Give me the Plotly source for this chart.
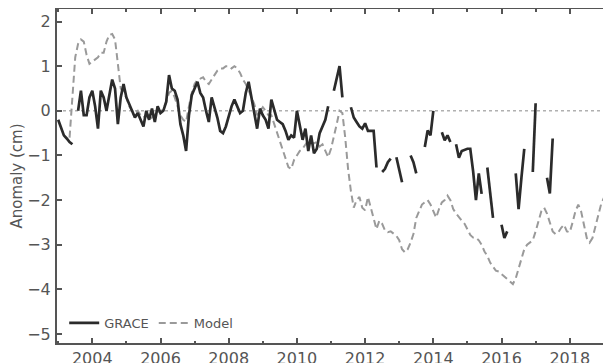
import plotly.graph_objects as go

# ---- data (monthly values, month index counted from Jan 2003) ----
grace_start_month = 0
grace_values = [
    -0.2, -0.4, -0.55, -0.62, -0.7, -0.75, None, 0.0, 0.45, -0.1,
    -0.1, 0.3, 0.45, 0.1, -0.4, 0.45, 0.3, 0.0, 0.4, 0.7,
    0.5, -0.3, 0.3, 0.6, 0.3, 0.15, 0.0, -0.15, -0.05, -0.2,
    -0.35, 0.0, -0.2, 0.05, -0.25, 0.1, -0.05, 0.0, 0.2, 0.8,
    0.5, 0.45, 0.25, -0.3, -0.55, -0.9, -0.1, 0.35, 0.5, 0.65,
    0.4, 0.3, 0.0, -0.25, 0.3, 0.1, -0.15, -0.45, -0.5, -0.35,
    -0.1, 0.1, 0.25, 0.1, -0.05, 0.0, 0.4, 0.65, 0.3, -0.1,
    -0.4, 0.05, -0.1, -0.2, -0.4, 0.25, 0.0, -0.2, -0.25, -0.3,
    -0.45, -0.65, -0.55, -0.6, 0.0, -0.35, -0.65, -0.4, -0.9, -0.55,
    -0.95, -0.85, -0.5, -0.35, -0.2, 0.1, None, 0.45, 0.75, 1.0,
    0.3, None, None, 0.08, -0.15, -0.25, -0.35, -0.4, -0.28, -0.45,
    -0.45, -0.45, -1.27, None, -1.37, -1.3, -1.15, -1.07, None, -1.04,
    -1.3, -1.6, None, None, -1.0, -1.15, -1.4, None, None, -0.81,
    -0.44, -0.55, 0.0, None, None, -0.48, -0.66, -0.55, -0.7, None,
    -0.75, -1.05, -0.9, -0.88, -0.85, -0.85, -1.35, -2.0, -1.4, -1.86,
    None, -1.27, -1.8, -2.4, None, None, -2.55, -2.85, -2.7, None,
    None, -1.4, -2.2, -1.5, -0.85, None, None, -1.37, 0.17, None,
    None, None, -1.5, -1.85, -0.62,
]

model_start_month = 4
model_values = [
    -0.6, 0.2, 1.2, 1.5, 1.6, 1.55, 1.25, 1.05, 1.1, 1.15,
    1.2, 1.3, 1.3, 1.55, 1.7, 1.72, 1.6, 1.05, 0.5, 0.4,
    0.3, 0.1, 0.0, -0.05, 0.0, -0.1, -0.15, -0.1, -0.2, -0.15,
    -0.1, 0.0, -0.05, 0.05, 0.2, 0.4, 0.45, 0.3, 0.1, -0.1,
    -0.2, -0.25, 0.1, 0.4, 0.6, 0.7, 0.72, 0.75, 0.65, 0.6,
    0.7, 0.8, 0.9, 0.95, 0.95, 1.0, 1.0, 0.95, 1.0, 0.95,
    0.85, 0.7, 0.6, 0.46, 0.3, 0.15, -0.1, 0.0, 0.08, 0.0,
    -0.1, -0.1, -0.3, -0.5, -0.7, -0.88, -1.05, -1.26, -1.3, -1.1,
    -1.0, -0.9, -0.85, -0.75, -0.66, -0.7, -0.73, -0.7, -0.8, -0.75,
    -0.9, -1.04, -0.85, -0.6, -0.3, 0.0, -0.05, -0.6, -1.3, -1.8,
    -2.17, -2.0, -1.93, -2.17, -2.23, -1.93, -2.17, -2.45, -2.65, -2.46,
    -2.53, -2.68, -2.72, -2.7, -2.76, -2.8, -2.9, -3.1, -3.17, -3.1,
    -2.95, -2.76, -2.4, -2.23, -2.1, -2.05, -2.0, -2.1, -2.25, -2.39,
    -2.2, -2.05, -2.0, -1.9, -2.0, -2.2, -2.3, -2.39, -2.46, -2.53,
    -2.65, -2.78, -2.84, -2.84, -2.9, -3.0, -3.15, -3.25, -3.4, -3.5,
    -3.58, -3.6, -3.66, -3.72, -3.78, -3.84, -3.88, -3.75, -3.55, -3.3,
    -3.1, -3.0, -2.95, -2.9, -2.7, -2.45, -2.25, -2.17, -2.3, -2.5,
    -2.7, -2.76, -2.72, -2.62, -2.55, -2.7, -2.72, -2.5, -2.25, -2.1,
    -2.25, -2.55, -2.85, -2.95, -2.85, -2.6, -2.35, -2.1, -1.95,
]

base_year = 2003
x_tick_values = [2004, 2006, 2008, 2010, 2012, 2014, 2016, 2018]
x_tick_labels = ["2004", "2006", "2008", "2010", "2012", "2014", "2016", "2018"]
y_tick_values = [2, 1, 0, -1, -2, -3, -4, -5]
series_names = ["GRACE", "Model"]
y_title = "Anomaly (cm)"

grace_x = [base_year + (grace_start_month + i) / 12 for i in range(len(grace_values))]
model_x = [base_year + (model_start_month + i) / 12 for i in range(len(model_values))]

AX = "#555555"
FONT = "DejaVu Sans, sans-serif"

fig = go.Figure()
fig.add_hline(y=0, line=dict(color="#b0b0b0", width=1.5, dash="dot"), layer="below")
fig.add_trace(go.Scatter(
    x=model_x, y=model_values, mode="lines", name=series_names[1],
    line=dict(color="#9a9a9a", width=2, dash="7px,4px"),
    connectgaps=False,
))
fig.add_trace(go.Scatter(
    x=grace_x, y=grace_values, mode="lines", name=series_names[0],
    line=dict(color="#2b2b2b", width=2.7),
    connectgaps=False,
))

# the page body adds an 8px margin; the figure is sized to fill the rest
fig.update_layout(
    width=603, height=355,
    margin=dict(l=49, r=0, t=1, b=20, autoexpand=False),
    plot_bgcolor="white", paper_bgcolor="white",
    font=dict(family=FONT, color=AX, size=14),
    showlegend=True,
    legend=dict(
        orientation="h", x=0.013, y=0.06, xanchor="left", yanchor="middle",
        bgcolor="rgba(0,0,0,0)", font=dict(size=13, color=AX),
        traceorder="reversed", itemwidth=30,
    ),
    xaxis=dict(
        range=[2002.965, 2019.21], automargin=False,
        tickvals=x_tick_values, ticktext=x_tick_labels,
        ticks="inside", ticklen=5, tickwidth=1.5, tickcolor=AX,
        showline=True, linecolor=AX, linewidth=2, mirror="ticks",
        showgrid=False, zeroline=False,
        tickfont=dict(size=16, color=AX),
        minor=dict(dtick=1, tick0=2003, ticks="inside", ticklen=2.5,
                   tickwidth=1.5, tickcolor=AX, showgrid=False),
    ),
    yaxis=dict(
        range=[-5.2, 2.28], automargin=False,
        tickvals=y_tick_values,
        ticks="inside", ticklen=5, tickwidth=1.5, tickcolor=AX,
        showline=True, linecolor=AX, linewidth=2,
        showgrid=False, zeroline=False,
        tickfont=dict(size=16, color=AX),
        ticklabelstandoff=1,
        title=dict(text=y_title, font=dict(size=15, color=AX), standoff=4),
    ),
)

fig.write_html("out.html")
